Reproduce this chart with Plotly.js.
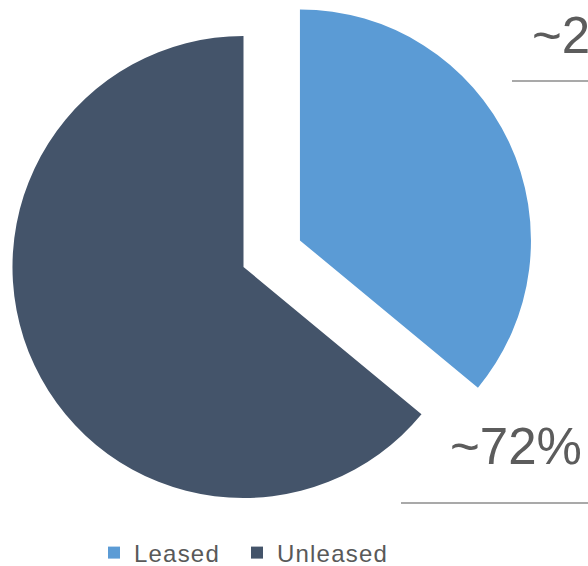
<!DOCTYPE html>
<html>
<head>
<meta charset="utf-8">
<script src="https://cdn.plot.ly/plotly-3.0.1.min.js"></script>
<style>
  html, body { margin: 0; padding: 0; width: 588px; height: 566px; overflow: hidden; background: #fff; }
  #chart { position: absolute; left: -60px; top: -40px; width: 760px; height: 660px; }
  text.legendtext { letter-spacing: 1.2px; }
  g.legend g.scrollbox { clip-path: none !important; }
</style>
</head>
<body>
<div id="chart"></div>
<script>
// Data
const categories = ["Leased", "Unleased"];
const shares = [36, 64];
const sliceColors = ["#5B9BD5", "#44546A"];
const pulls = [0.27, 0];
const calloutTexts = ["~28%", "~72%"];

const W = 760, H = 660;
const px = v => v / W;
const py = v => 1 - v / H;

const trace = {
  type: "pie",
  labels: categories,
  values: shares,
  marker: { colors: sliceColors, line: { width: 0 } },
  pull: pulls,
  sort: false,
  direction: "clockwise",
  rotation: 0,
  textinfo: "none",
  hoverinfo: "label+percent",
  domain: { x: [px(10.1), px(596.9)], y: [py(600.4), py(13.6)] }
};

const textFont = { family: "Liberation Sans, Arial, sans-serif", size: 51, color: "#5c5c5c" };

const layout = {
  width: W, height: H,
  margin: { l: 0, r: 0, t: 0, b: 0 },
  paper_bgcolor: "#ffffff",
  showlegend: true,
  legend: {
    orientation: "h",
    x: px(154), xanchor: "left",
    y: py(593), yanchor: "middle",
    entrywidth: 98,
    font: { family: "Liberation Sans, Arial, sans-serif", size: 24, color: "#595959" },
    itemclick: false, itemdoubleclick: false
  },
  annotations: [
    { text: calloutTexts[0], xref: "paper", yref: "paper", x: px(590), y: py(75), xanchor: "left", yanchor: "middle", showarrow: false, font: textFont },
    { text: calloutTexts[1], xref: "paper", yref: "paper", x: px(508), y: py(486), xanchor: "left", yanchor: "middle", showarrow: false, font: textFont }
  ],
  shapes: [
    { type: "line", xref: "paper", yref: "paper", x0: px(572), x1: px(720), y0: py(121), y1: py(121), line: { color: "#8c8c8c", width: 1.5 } },
    { type: "line", xref: "paper", yref: "paper", x0: px(461), x1: px(720), y0: py(543), y1: py(543), line: { color: "#8c8c8c", width: 1.5 } }
  ]
};

Plotly.newPlot("chart", [trace], layout, { displayModeBar: false, staticPlot: true });
</script>
</body>
</html>
